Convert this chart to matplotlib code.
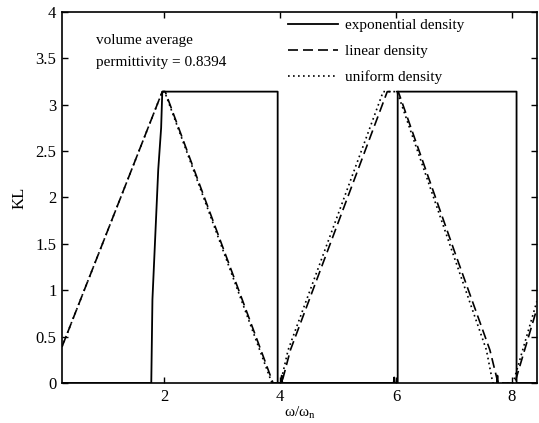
import numpy as np
import matplotlib
matplotlib.use("Agg")
import matplotlib.pyplot as plt

PI = np.pi

# exponential density (solid)
omega_exp = [0.24, 1.78, 1.80, 1.90, 1.95, 1.97, 3.96, 3.96, 4.02, 4.03, 4.04,
             5.96, 5.97, 5.98, 6.03, 6.03, 8.08, 8.08, 8.43]
kl_exp = [0.0, 0.0, 0.9, 2.3, 2.75, PI, PI, 0.0, 0.0, 0.08, 0.0,
          0.0, 0.06, 0.0, 0.0, PI, PI, 0.0, 0.0]
# small spike on the baseline near 7.75
omega_spike = [7.74, 7.75, 7.76]
kl_spike = [0.0, 0.08, 0.0]

# linear density (dashed)
omega_lin = [0.24, 1.97, 2.02, 3.67, 3.88, 4.03, 4.18, 5.85, 6.04, 7.02, 7.62, 7.76, 8.05, 8.43]
kl_lin = [0.39, PI, PI, 0.356, 0.0, 0.0, 0.356, PI, PI, 1.40, 0.356, 0.0, 0.0, 0.80]

# uniform density (dotted)
omega_uni = [0.24, 1.97, 2.01, 3.65, 3.86, 4.01, 4.14, 5.78, 6.02, 6.98, 7.56, 7.67, 8.02, 8.43]
kl_uni = [0.39, PI, PI, 0.356, 0.0, 0.0, 0.356, PI, PI, 1.40, 0.356, 0.0, 0.0, 0.88]

x_ticks = [2, 4, 6, 8]
y_ticks = [0, 0.5, 1, 1.5, 2, 2.5, 3, 3.5, 4]
y_labels = ["0", "0.5", "1", "1.5", "2", "2.5", "3", "3.5", "4"]

plt.rcParams["font.family"] = ["Liberation Serif", "DejaVu Serif"]
plt.rcParams["font.size"] = 11
plt.rcParams["mathtext.fontset"] = "custom"
plt.rcParams["mathtext.rm"] = "Liberation Serif"

fig = plt.figure(figsize=(5.39, 4.23), dpi=100)
ax = fig.add_axes([0.115, 0.0946, 0.881, 0.877])

ax.plot(omega_exp, kl_exp, color="black", lw=1.3, ls="-", label="exponential density")
ax.plot(omega_lin, kl_lin, color="black", lw=1.2, ls=(0, (6, 3)), label="linear density")
ax.plot(omega_uni, kl_uni, color="black", lw=1.2, ls=(0, (1, 2)), label="uniform density")
ax.plot(omega_spike, kl_spike, color="black", lw=1.3)

ax.set_xlim(0.24, 8.43)
ax.set_ylim(0, 4)
ax.set_xticks(x_ticks)
ax.set_xticklabels([str(t) for t in x_ticks])
ax.set_yticks(y_ticks)
ax.set_yticklabels(y_labels)
ax.tick_params(direction="in", top=True, right=True, length=4, width=1, labelsize=12, pad=4)
for s in ax.spines.values():
    s.set_linewidth(1.2)

ax.set_xlabel(r"ω/ω$_{\mathrm{n}}$", fontsize=11, labelpad=0)
ax.set_ylabel("KL", fontsize=12, labelpad=6)

ax.text(0.071, 0.9245, "volume average", transform=ax.transAxes,
        ha="left", va="center", fontsize=11)
ax.text(0.071, 0.863, "permittivity = 0.8394", transform=ax.transAxes,
        ha="left", va="center", fontsize=11)

ax.legend(loc="upper left", bbox_to_anchor=(0.459, 1.004), frameon=False,
          borderpad=0, handlelength=3.3, handletextpad=0.45, labelspacing=0.82,
          fontsize=11)

fig.savefig("out.png", dpi=100)
